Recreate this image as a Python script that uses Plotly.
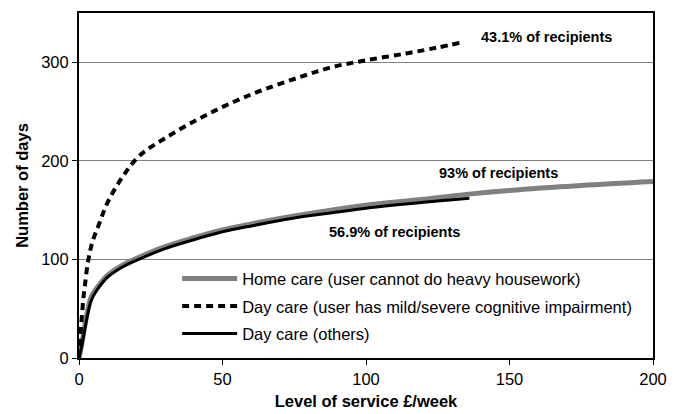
import plotly.graph_objects as go

# Home care (user cannot do heavy housework)
home_x = [0, 1, 2, 3, 4, 5, 7, 10, 15, 20, 30, 40, 50, 60, 75, 90, 100, 120, 135, 150, 175, 200]
home_y = [0, 15, 32, 48, 60, 66, 74, 84, 94, 101, 113, 122, 130, 136, 144, 151, 155, 161, 166, 170, 175, 179]

# Day care (user has mild/severe cognitive impairment)
dc_cog_x = [0, 0.5, 1, 1.5, 2, 3, 4.5, 7, 10, 15, 21, 30, 42, 54, 65, 77, 88, 100, 114, 125, 133]
dc_cog_y = [0, 25, 42, 60, 72, 95, 116, 136, 158, 183, 205, 223, 243, 260, 273, 285, 295, 302, 309, 315, 320]

# Day care (others)
dc_oth_x = [0, 1, 2, 3, 4, 5, 7, 10, 15, 20, 30, 40, 50, 60, 75, 90, 100, 120, 136]
dc_oth_y = [0, 13, 29, 44, 56, 63, 72, 82, 92, 99, 111, 120, 128, 134, 142, 148, 152, 158, 162]

names = [
    "Home care (user cannot do heavy housework)",
    "Day care (user has mild/severe cognitive impairment)",
    "Day care (others)",
]

ann_text = ["43.1% of recipients", "93% of recipients", "56.9% of recipients"]
ann_x = [163, 146, 110]
ann_y = [326, 187.5, 128]

FONT = "Arial, Liberation Sans, sans-serif"

fig = go.Figure()
fig.add_trace(go.Scatter(x=home_x, y=home_y, mode="lines", name=names[0], legendgroup="a",
                         line=dict(color="#808080", width=5, shape="spline")))
fig.add_trace(go.Scatter(x=dc_cog_x, y=dc_cog_y, mode="lines", name=names[1], legendgroup="b",
                         line=dict(color="black", width=4, dash="7px,5px", shape="spline")))
fig.add_trace(go.Scatter(x=dc_oth_x, y=dc_oth_y, mode="lines", name=names[2], legendgroup="c",
                         line=dict(color="black", width=3, shape="spline")))

for t, x, y in zip(ann_text, ann_x, ann_y):
    fig.add_annotation(x=x, y=y, text="<b>" + t + "</b>", showarrow=False,
                       font=dict(size=14.5, color="black", family=FONT))

fig.update_layout(
    width=679, height=414,
    margin=dict(l=71, r=34, t=3, b=64),
    paper_bgcolor="white", plot_bgcolor="white",
    font=dict(family=FONT, size=16.5, color="black"),
    showlegend=True,
    legend=dict(x=0.171, y=0.28, xanchor="left", yanchor="top",
                bgcolor="rgba(255,255,255,0)", font=dict(size=16.5),
                tracegroupgap=3, itemwidth=55),
    xaxis=dict(range=[0, 200], tickvals=[0, 50, 100, 150, 200],
               showgrid=False, zeroline=False, showline=True, linecolor="black",
               linewidth=2, mirror=True, ticks="outside", ticklen=5, tickcolor="black",
               tickfont=dict(size=16.5),
               title=dict(text="<b>Level of service £/week</b>", font=dict(size=16.5), standoff=9)),
    yaxis=dict(range=[0, 350], tickvals=[0, 100, 200, 300],
               showgrid=True, gridcolor="#808080", gridwidth=1, zeroline=False,
               showline=True, linecolor="black", linewidth=2, mirror=True,
               ticks="outside", ticklen=5, tickcolor="black",
               tickfont=dict(size=16.5),
               title=dict(text="<b>Number of days</b>", font=dict(size=16.5), standoff=8)),
)

fig.write_html("out.html")
